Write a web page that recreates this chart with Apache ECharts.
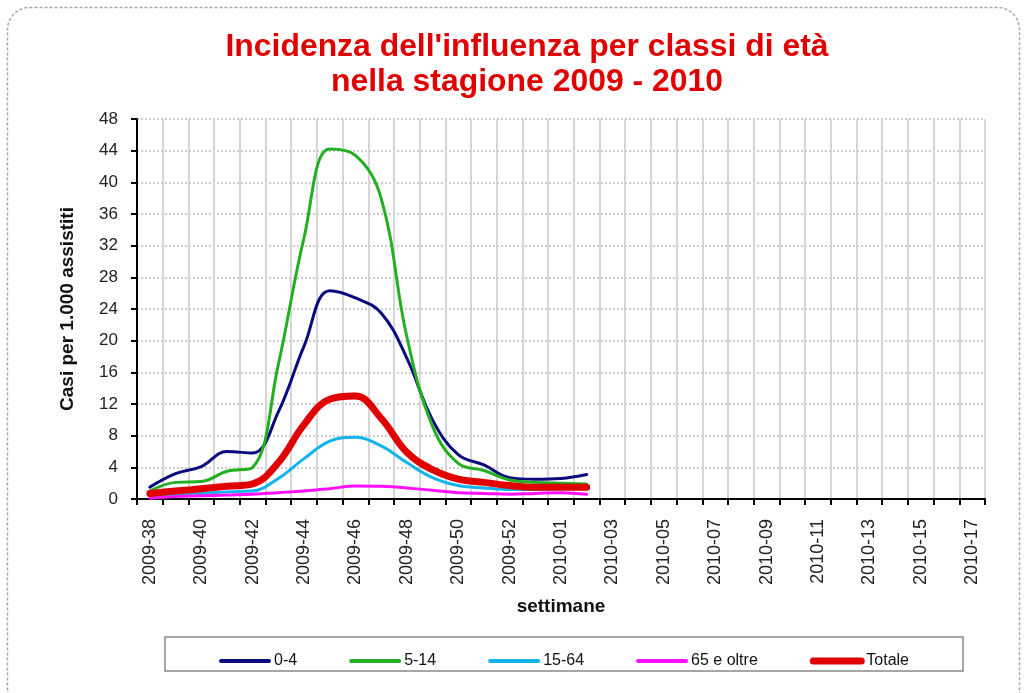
<!DOCTYPE html>
<html>
<head>
<meta charset="utf-8">
<script src="https://cdn.jsdelivr.net/npm/echarts@6/dist/echarts.min.js"></script>
<style>
html,body{margin:0;padding:0;background:#fff;}
#chart{width:1024px;height:693px;}
</style>
</head>
<body>
<div id="chart"></div>
<script>
// ---- data ----
const weeks = [
  '2009-38','2009-39','2009-40','2009-41','2009-42','2009-43','2009-44','2009-45',
  '2009-46','2009-47','2009-48','2009-49','2009-50','2009-51','2009-52','2009-53',
  '2010-01','2010-02','2010-03','2010-04','2010-05','2010-06','2010-07','2010-08',
  '2010-09','2010-10','2010-11','2010-12','2010-13','2010-14','2010-15','2010-16','2010-17'
];
const seriesNames = ['0-4', '5-14', '15-64', '65 e oltre', 'Totale'];
const age0_4   = [1.5, 3.2, 4.1, 6.0, 5.8, 11.0, 19.3, 26.3, 25.4, 23.5, 17.8, 10.0, 5.6, 4.3, 2.7, 2.5, 2.6, 3.1];
const age5_14  = [1.0, 2.1, 2.2, 3.5, 4.0, 17.0, 33.0, 44.2, 43.4, 38.0, 20.5, 9.2, 4.5, 3.6, 2.4, 2.1, 2.0, 1.9];
const age15_64 = [0.4, 0.5, 0.7, 0.9, 1.0, 2.6, 5.1, 7.3, 7.8, 6.7, 4.6, 2.7, 1.7, 1.4, 1.2, 1.2, 1.3, 1.3];
const age65    = [0.1, 0.3, 0.4, 0.5, 0.6, 0.8, 1.0, 1.3, 1.65, 1.6, 1.4, 1.1, 0.8, 0.7, 0.6, 0.7, 0.8, 0.6];
const totale   = [0.7, 1.0, 1.3, 1.6, 1.9, 4.6, 9.4, 12.6, 13.0, 10.2, 5.9, 3.7, 2.5, 2.1, 1.7, 1.5, 1.5, 1.5];
const titleLine1 = "Incidenza dell'influenza per classi di età";
const titleLine2 = "nella stagione 2009 - 2010";
const yAxisTitle = 'Casi per 1.000 assistiti';
const xAxisTitle = 'settimane';

// ---- styling ----
const colors = ['#0b0b80', '#22b022', '#12b4ee', '#ff10ff', '#e00000'];
const widths = [3, 3, 3, 3, 7];
const legendWidths = [4, 4, 4, 4, 7];
const values = [age0_4, age5_14, age15_64, age65, totale];

function fitScale(text, font, target) {
  const c = document.createElement('canvas').getContext('2d');
  c.font = font;
  const w = c.measureText(text).width;
  return w > 0 ? target / w : 1;
}
const tFont = 'bold 32px "Liberation Sans", Arial, sans-serif';
const s1 = fitScale(titleLine1, tFont, 603);
const s2 = fitScale(titleLine2, tFont, 392);

const chart = echarts.init(document.getElementById('chart'), null, {renderer: 'canvas'});
const option = {
  backgroundColor: '#fff',
  animation: false,
  textStyle: {fontFamily: '"Liberation Sans", Arial, sans-serif'},
  grid: {left: 137, right: 39, top: 119, bottom: 194, containLabel: false},
  legend: {
    data: seriesNames.map((n, i) => ({
      name: n,
      lineStyle: {width: legendWidths[i], cap: 'round', color: colors[i]}
    })),
    left: 214, top: 648,
    itemWidth: 48, itemHeight: 12, itemGap: 52,
    itemStyle: {opacity: 0},
    textStyle: {fontSize: 16, color: '#111', fontFamily: '"Liberation Sans", Arial, sans-serif'}
  },
  xAxis: {
    type: 'category',
    data: weeks,
    boundaryGap: true,
    name: xAxisTitle,
    nameLocation: 'middle',
    nameGap: 98,
    nameTextStyle: {fontSize: 19, fontWeight: 'bold', color: '#111'},
    axisLine: {lineStyle: {color: '#000', width: 2}},
    axisTick: {show: true, interval: 0, length: 6, lineStyle: {color: '#000', width: 2}},
    axisLabel: {interval: 1, rotate: 90, margin: 20, fontSize: 18, color: '#222'},
    splitLine: {show: true, interval: 0, lineStyle: {color: '#d6d6d6', width: 2}}
  },
  yAxis: {
    type: 'value',
    min: 0, max: 48, interval: 4,
    name: yAxisTitle,
    nameLocation: 'middle',
    nameGap: 60,
    nameRotate: 90,
    nameTextStyle: {fontSize: 19, fontWeight: 'bold', color: '#111'},
    axisLine: {show: true, lineStyle: {color: '#000', width: 2}},
    axisTick: {show: true, length: 6, lineStyle: {color: '#000', width: 2}},
    axisLabel: {margin: 19, fontSize: 17, color: '#222'},
    splitLine: {show: true, lineStyle: {color: '#cccccc', width: 2, type: [2, 2]}}
  },
  series: seriesNames.map((n, i) => ({
    name: n,
    type: 'line',
    data: values[i],
    smooth: 0.4,
    symbol: 'none',
    lineStyle: {color: colors[i], width: widths[i], cap: 'round', join: 'round'},
    itemStyle: {color: colors[i]},
    z: 2 + i
  })),
  graphic: [
    {type: 'rect', silent: true, z: -1,
     shape: {x: 7.5, y: 7.5, width: 1012, height: 760, r: 22},
     style: {fill: null, stroke: '#a8a8a8', lineWidth: 1.5, lineDash: [3, 2]}},
    {type: 'text', x: 527, y: 47, scaleX: s1,
     style: {text: titleLine1, font: tFont, fill: '#e00000', textAlign: 'center', textVerticalAlign: 'middle'}},
    {type: 'text', x: 527, y: 82, scaleX: s2,
     style: {text: titleLine2, font: tFont, fill: '#e00000', textAlign: 'center', textVerticalAlign: 'middle'}},
    {type: 'rect', silent: true, z: -1,
     shape: {x: 165, y: 637, width: 798, height: 34},
     style: {fill: '#fff', stroke: '#a6a6a6', lineWidth: 2}}
  ]
};
chart.setOption(option);
</script>
</body>
</html>
